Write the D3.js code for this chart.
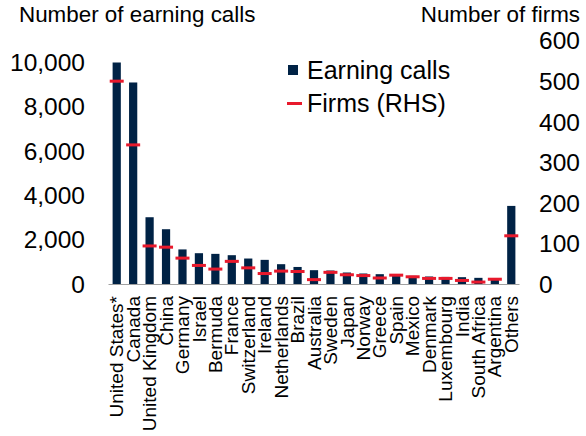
<!DOCTYPE html>
<html>
<head>
<meta charset="utf-8">
<script src="https://cdn.jsdelivr.net/npm/d3@7"></script>
<style>
  body { margin: 0; background: #fff; }
  svg text { font-family: "Liberation Sans", Arial, sans-serif; fill: #000; }
</style>
</head>
<body>
<script>
var countries = ["United States*", "Canada", "United Kingdom", "China", "Germany", "Israel",
  "Bermuda", "France", "Switzerland", "Ireland", "Netherlands", "Brazil", "Australia",
  "Sweden", "Japan", "Norway", "Greece", "Spain", "Mexico", "Denmark", "Luxembourg",
  "India", "South Africa", "Argentina", "Others"];
var calls = [10000, 9100, 3030, 2490, 1580, 1410, 1380, 1320, 1170, 1110, 915, 790, 645,
  630, 540, 495, 465, 430, 390, 360, 342, 330, 300, 270, 3540];
var firms = [501, 344, 95, 92, 65, 47, 38, 57, 41, 27, 33, 32, 12,
  30, 24, 22, 16, 23, 19, 15, 15, 10, 6, 13, 120];
var leftTicks = [0, 2000, 4000, 6000, 8000, 10000];
var rightTicks = [0, 100, 200, 300, 400, 500, 600];

var navy = "#002245", red = "#e8192c";

var svg = d3.select("body").append("svg")
    .attr("width", 586)
    .attr("height", 436);

var x = d3.scaleBand().domain(countries).range([108.5, 519.5])
    .paddingInner(0.5).paddingOuter(0.25);
var yL = d3.scaleLinear().domain([0, 10000]).range([284.5, 62.5]);
var yR = d3.scaleLinear().domain([0, 600]).range([284.5, 41]);

// titles
svg.append("text").attr("x", 19).attr("y", 22)
    .style("font-size", "22.4px").text("Number of earning calls");
svg.append("text").attr("x", 580).attr("y", 22).attr("text-anchor", "end")
    .style("font-size", "22.4px").text("Number of firms");

// axes
var axL = svg.append("g").attr("transform", "translate(85,0)")
    .call(d3.axisLeft(yL).tickValues(leftTicks).tickSize(0).tickPadding(0)
      .tickFormat(d3.format(",")));
var axR = svg.append("g").attr("transform", "translate(539,0)")
    .call(d3.axisRight(yR).tickValues(rightTicks).tickSize(0).tickPadding(0));
[axL, axR].forEach(function(a) {
  a.select(".domain").remove();
  a.selectAll("text").style("font-size", "24.5px").attr("font-family", null);
});

// bars
svg.selectAll(".bar").data(countries).enter().append("rect")
    .attr("class", "bar")
    .attr("x", function(d) { return x(d); })
    .attr("width", x.bandwidth())
    .attr("y", function(d, i) { return yL(calls[i]); })
    .attr("height", function(d, i) { return yL(0) - yL(calls[i]); })
    .attr("fill", navy);

// baseline
svg.append("line")
    .attr("x1", x.range()[0]).attr("x2", x.range()[1])
    .attr("y1", yL(0)).attr("y2", yL(0))
    .attr("stroke", "#a0a0a0").attr("stroke-width", 1);

// firm markers
svg.selectAll(".firm").data(countries).enter().append("rect")
    .attr("class", "firm")
    .attr("x", function(d) { return x(d) + x.bandwidth() / 2 - 7; })
    .attr("width", 14)
    .attr("y", function(d, i) { return yR(firms[i]) - 1.5; })
    .attr("height", 3)
    .attr("fill", red);

// category labels
svg.selectAll(".cat").data(countries).enter().append("text")
    .attr("class", "cat")
    .attr("transform", function(d) {
      return "translate(" + (x(d) + x.bandwidth() / 2) + ",296) rotate(-90)";
    })
    .attr("text-anchor", "end")
    .attr("dy", "0.35em")
    .style("font-size", "19px")
    .text(function(d) { return d; });

// legend
svg.append("rect").attr("x", 288).attr("y", 65).attr("width", 10).attr("height", 10)
    .attr("fill", navy);
svg.append("text").attr("x", 307).attr("y", 70).attr("dy", "0.35em")
    .style("font-size", "25px").text("Earning calls");
svg.append("rect").attr("x", 287).attr("y", 102).attr("width", 15).attr("height", 3)
    .attr("fill", red);
svg.append("text").attr("x", 307).attr("y", 103.5).attr("dy", "0.35em")
    .style("font-size", "25px").text("Firms (RHS)");
</script>
</body>
</html>
